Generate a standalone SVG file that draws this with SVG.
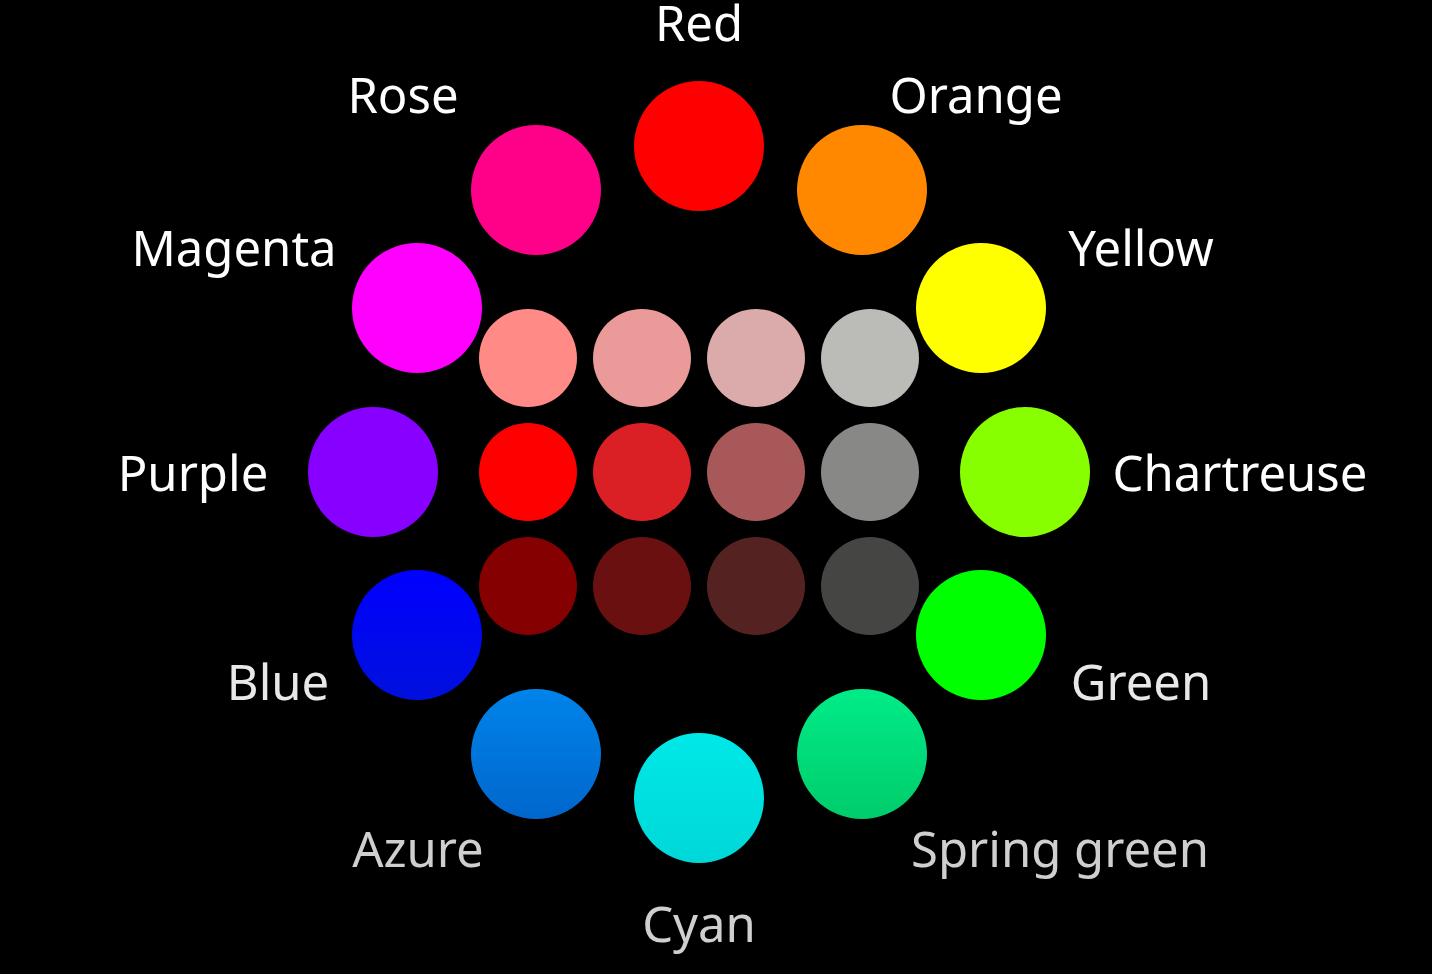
<svg xmlns="http://www.w3.org/2000/svg" width="1432" height="974" viewBox="0 0 1432 974">
<defs>
<style>
.lbl{font-family:"Noto Sans","Open Sans",sans-serif;font-size:49px;fill:#ffffff;text-anchor:middle}
.g1{fill:#e8e8e8}
.g2{fill:#cfcfcf}
</style>
<linearGradient id="gAz" x1="0" y1="0" x2="0" y2="1"><stop offset="0" stop-color="#0084ea"/><stop offset="1" stop-color="#0066cc"/></linearGradient>
<linearGradient id="gSp" x1="0" y1="0" x2="0" y2="1"><stop offset="0" stop-color="#00ec88"/><stop offset="1" stop-color="#00cc6a"/></linearGradient>
<linearGradient id="gCy" x1="0" y1="0" x2="0" y2="1"><stop offset="0" stop-color="#00e8e8"/><stop offset="1" stop-color="#00d8d8"/></linearGradient>
<linearGradient id="gBl" x1="0" y1="0" x2="0" y2="1"><stop offset="0" stop-color="#0000ff"/><stop offset="1" stop-color="#0010dd"/></linearGradient>
</defs>
<rect width="1432" height="974" fill="#000000"/>
<g id="wheel">
<g id="red"><circle cx="699" cy="146" r="65" fill="#ff0000"/><text class="lbl" x="699" y="41">Red</text></g>
<g id="orange"><circle cx="862" cy="190" r="65" fill="#ff8800"/><text class="lbl" x="976" y="113">Orange</text></g>
<g id="yellow"><circle cx="981" cy="308" r="65" fill="#ffff00"/><text class="lbl" x="1141" y="266">Yellow</text></g>
<g id="chartreuse"><circle cx="1025" cy="472" r="65" fill="#88ff00"/><text class="lbl" x="1240" y="491">Chartreuse</text></g>
<g id="green"><circle cx="981" cy="635" r="65" fill="#00ff00"/><text class="lbl g1" x="1141" y="700">Green</text></g>
<g id="springgreen"><circle cx="862" cy="754" r="65" fill="url(#gSp)"/><text class="lbl g2" x="1060" y="867">Spring green</text></g>
<g id="cyan"><circle cx="699" cy="798" r="65" fill="url(#gCy)"/><text class="lbl g2" x="699" y="942">Cyan</text></g>
<g id="azure"><circle cx="536" cy="754" r="65" fill="url(#gAz)"/><text class="lbl g2" x="418" y="867">Azure</text></g>
<g id="blue"><circle cx="417" cy="635" r="65" fill="url(#gBl)"/><text class="lbl g1" x="278" y="700">Blue</text></g>
<g id="purple"><circle cx="373" cy="472" r="65" fill="#8800ff"/><text class="lbl" x="193" y="491">Purple</text></g>
<g id="magenta"><circle cx="417" cy="308" r="65" fill="#ff00ff"/><text class="lbl" x="234" y="266">Magenta</text></g>
<g id="rose"><circle cx="536" cy="190" r="65" fill="#ff0088"/><text class="lbl" x="403" y="113">Rose</text></g>
</g>
<g id="grid">
<circle cx="528" cy="358" r="49" fill="#ff8a86"/>
<circle cx="642" cy="358" r="49" fill="#e99a99"/>
<circle cx="756" cy="358" r="49" fill="#dbaaaa"/>
<circle cx="870" cy="358" r="49" fill="#bbbbb8"/>
<circle cx="528" cy="472" r="49" fill="#ff0000"/>
<circle cx="642" cy="472" r="49" fill="#da2024"/>
<circle cx="756" cy="472" r="49" fill="#a85858"/>
<circle cx="870" cy="472" r="49" fill="#888886"/>
<circle cx="528" cy="586" r="49" fill="#850000"/>
<circle cx="642" cy="586" r="49" fill="#6a1010"/>
<circle cx="756" cy="586" r="49" fill="#552222"/>
<circle cx="870" cy="586" r="49" fill="#454543"/>
</g>
<g id="connectors"/>
</svg>
